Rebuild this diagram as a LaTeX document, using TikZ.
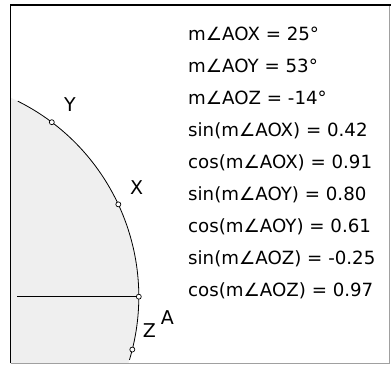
\documentclass[tikz,border=0pt]{standalone}
\usepackage{fontspec}
\setmainfont{DejaVu Sans}
\usetikzlibrary{calc}
\definecolor{diskfill}{HTML}{EFEFEF}
\definecolor{rimgray}{HTML}{A0A0A0}
\tikzset{
  pt/.style={circle,draw,fill=white,inner sep=0pt,minimum size=5pt,line width=0.7pt},
  ptlabel/.style={font=\fontsize{19}{21}\selectfont,inner sep=0pt},
  measure/.style={anchor=base west,inner sep=0pt,font=\fontsize{18.2}{20}\selectfont}
}

\begin{document}
\begin{tikzpicture}[x=1pt,y=1pt]
    \useasboundingbox (0,0) rectangle (391,365);
    \coordinate (O) at (-79.7,68.3);
    % shaded disk
    \begin{scope}
      \clip (10.5,2) rectangle (389.5,360);
      \fill[diskfill] (O) circle[radius=218.5pt];
    \end{scope}
    % frame
    \draw[rimgray,line width=0.6pt] (10.5,2) -- (389.5,2) -- (389.5,360);
    \draw[line width=1.6pt] (10.5,2) -- (10.5,360) -- (391,360);
    % arc and radius
    \draw[line width=0.8pt] (O) ++(63.5:218.5pt) arc[start angle=63.5,end angle=-16.8,radius=218.5pt];
    \coordinate (L) at (17,68.3);
    \node[pt] (A) at ($(O)+(0:218.5pt)$) {};
    \draw[line width=0.8pt] (L) -- (A);
    \node[pt] (X) at ($(O)+(25:218.5pt)$) {};
    \node[pt] (Y) at ($(O)+(53:218.5pt)$) {};
    \node[pt] (Z) at ($(O)+(-14:218.5pt)$) {};
    \node[ptlabel] (labY) at (70,260) {Y};
    \node[ptlabel] (labX) at (136.7,177) {X};
    \node[ptlabel] (labZ) at (149.5,34) {Z};
    \node[ptlabel] (labA) at (167.3,47) {A};
    % measurements
    \foreach \t [count=\i from 0] in {m∠AOX = 25°, m∠AOY = 53°, m∠AOZ = -14°,
        sin(m∠AOX) = 0.42, cos(m∠AOX) = 0.91, sin(m∠AOY) = 0.80,
        cos(m∠AOY) = 0.61, sin(m∠AOZ) = -0.25, cos(m∠AOZ) = 0.97}
      \node[measure] (m\i) at (188,324.2-32*\i) {\t};
  \end{tikzpicture}
\end{document}
